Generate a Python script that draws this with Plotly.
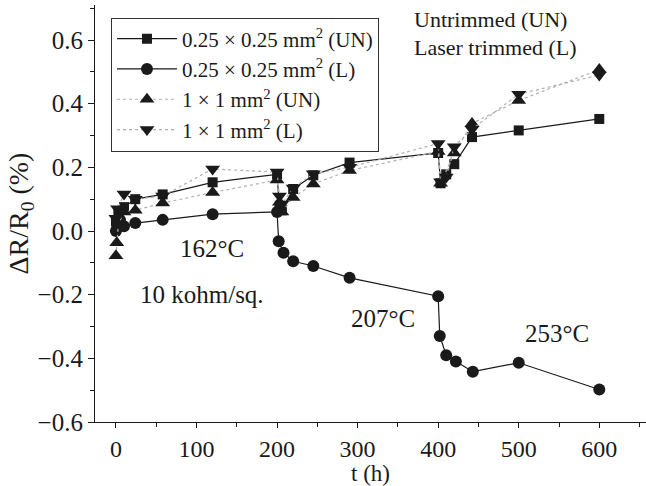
import plotly.graph_objects as go

# ---- data ----
t_sq_un = [0, 3, 10, 24, 58, 120, 200, 203, 206, 220, 245, 290, 400, 403, 410, 420, 442, 500, 600]
y_sq_un = [0.03, 0.055, 0.075, 0.1, 0.115, 0.153, 0.178, 0.07, 0.065, 0.132, 0.175, 0.215, 0.245, 0.15, 0.178, 0.21, 0.295, 0.316, 0.352]

t_sq_l = [0, 2, 5, 10, 24, 58, 120, 200, 202, 208, 220, 245, 290, 400, 402, 410, 422, 443, 500, 600]
y_sq_l = [0.0, 0.02, 0.035, 0.015, 0.025, 0.035, 0.053, 0.06, -0.032, -0.068, -0.095, -0.11, -0.147, -0.205, -0.33, -0.39, -0.41, -0.442, -0.414, -0.498]

t_big_un = [0, 1, 3, 10, 24, 58, 120, 200, 203, 206, 220, 245, 290, 400, 403, 420, 442, 500, 600]
y_big_un = [-0.078, -0.037, 0.02, 0.06, 0.065, 0.088, 0.121, 0.16, 0.09, 0.06, 0.105, 0.148, 0.19, 0.25, 0.15, 0.245, 0.338, 0.41, 0.507]

t_big_l = [0, 2, 10, 24, 58, 120, 200, 203, 206, 220, 245, 290, 400, 403, 410, 420, 442, 500, 600]
y_big_l = [0.04, 0.07, 0.116, 0.1, 0.11, 0.195, 0.185, 0.11, 0.085, 0.135, 0.18, 0.2, 0.275, 0.155, 0.17, 0.265, 0.32, 0.43, 0.49]

names = ["0.25 × 0.25 mm<sup>2</sup> (UN)", "0.25 × 0.25 mm<sup>2</sup> (L)",
         "1 × 1 mm<sup>2</sup> (UN)", "1 × 1 mm<sup>2</sup> (L)"]

x_ticks = [0, 100, 200, 300, 400, 500, 600]
y_ticks = [-0.6, -0.4, -0.2, 0.0, 0.2, 0.4, 0.6]
y_tick_text = ["−0.6", "−0.4", "−0.2", "0.0", "0.2", "0.4", "0.6"]

FONT = "Liberation Serif"
INK = "#1a1a1a"

fig = go.Figure()
fig.add_trace(go.Scatter(x=t_sq_un, y=y_sq_un, name=names[0], mode="lines+markers",
                         line=dict(color=INK, width=1.2),
                         marker=dict(symbol="square", size=10, color=INK)))
fig.add_trace(go.Scatter(x=t_sq_l, y=y_sq_l, name=names[1], mode="lines+markers",
                         line=dict(color=INK, width=1.2),
                         marker=dict(symbol="circle", size=12, color=INK)))
fig.add_trace(go.Scatter(x=t_big_un, y=y_big_un, name=names[2], mode="lines+markers",
                         line=dict(color="#b0b0b0", width=1.2, dash="dot"),
                         marker=dict(symbol="triangle-up", size=13, color=INK)))
fig.add_trace(go.Scatter(x=t_big_l, y=y_big_l, name=names[3], mode="lines+markers",
                         line=dict(color="#b0b0b0", width=1.2, dash="dot"),
                         marker=dict(symbol="triangle-down", size=13, color=INK)))

for txt, x, y, sz, anchor in [("162°C", 119, -0.054, 25, "center"),
                              ("10 kohm/sq.", 107, -0.2, 25, "center"),
                              ("207°C", 332, -0.275, 25, "center"),
                              ("253°C", 547, -0.322, 25, "center"),
                              ("Untrimmed (UN)", 367, 0.663, 22, "left"),
                              ("Laser trimmed (L)", 367, 0.575, 22, "left")]:
    fig.add_annotation(x=x, y=y, text=txt, showarrow=False, xanchor=anchor,
                       font=dict(family=FONT, size=sz, color=INK))

fig.update_layout(
    width=646, height=486,
    margin=dict(l=95, r=0, t=5, b=64),
    paper_bgcolor="white", plot_bgcolor="white",
    font=dict(family=FONT, size=24, color=INK),
    showlegend=True,
    legend=dict(x=0.029, y=0.97, xanchor="left", yanchor="top",
                bordercolor="#333", borderwidth=1, bgcolor="white",
                font=dict(family=FONT, size=21, color=INK),
                itemwidth=60, tracegroupgap=0),
    xaxis=dict(range=[-26, 658], tickvals=x_ticks, showline=True, linecolor=INK,
               linewidth=1.2, ticks="outside", ticklen=5, tickcolor=INK,
               showgrid=False, zeroline=False, automargin=False,
               tickfont=dict(size=24),
               minor=dict(ticks="outside", ticklen=4, dtick=50, tick0=0, tickcolor=INK),
               title=dict(text="t (h)", standoff=0, font=dict(size=23))),
    yaxis=dict(range=[-0.6, 0.71], tickvals=y_ticks, ticktext=y_tick_text,
               showline=True, linecolor=INK,
               linewidth=1.2, ticks="outside", ticklen=6, tickcolor=INK,
               showgrid=False, zeroline=False, automargin=False,
               tickfont=dict(size=25),
               minor=dict(ticks="outside", ticklen=4, dtick=0.1, tick0=0, tickcolor=INK),
               title=dict(text="ΔR/R<sub>0</sub> (%)", standoff=0, font=dict(size=28))),
)

fig.write_html("out.html", post_script="document.body.style.margin='0';",
               config={"displayModeBar": False})
